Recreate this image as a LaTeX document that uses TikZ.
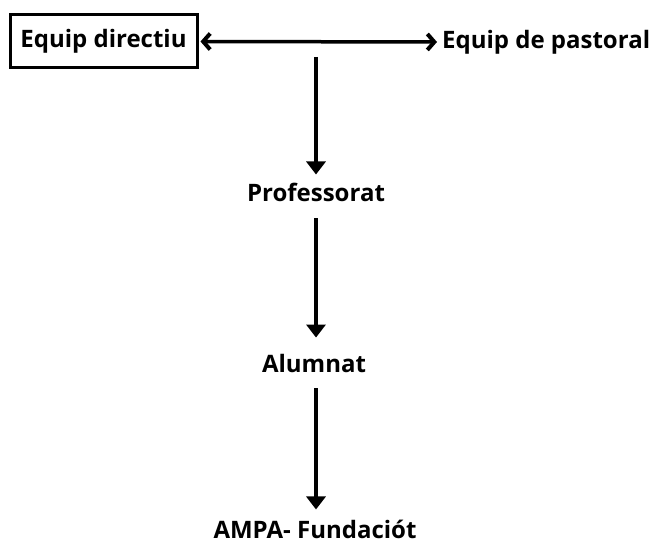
\documentclass[tikz,border=0pt]{standalone}
\usepackage{fontspec}
\setmainfont{Open Sans}
\usepackage{tikz}
\usetikzlibrary{arrows.meta}

\begin{document}
\begin{tikzpicture}[x=1pt, y=-1pt, font=\bfseries\fontsize{24}{27}\selectfont,
        level/.style={inner sep=2pt},
        flow/.style={line width=3.5pt, -{Triangle[length=13pt, width=19pt]}},
        both/.style={line width=3.5pt, {Straight Barb[length=7pt, width=16pt, line width=4pt]}-{Straight Barb[length=7pt, width=16pt, line width=4pt]}}]
        \useasboundingbox (0, 0) rectangle (657, 545);
        \node[draw, line width=3pt, minimum width=187pt, minimum height=53pt, inner xsep=3pt] (direccio) at (103.5, 41.5) {Equip directiu};
        \node[level, anchor=west] (pastoral) at (440, 42) {Equip de pastoral};
        \node[level] (professorat) at (316, 192) {Professorat};
        \node[level] (alumnat) at (314, 364) {Alumnat};
        \node[level] (ampa) at (315, 529) {AMPA- Fundaciót};
        \coordinate (sota) at (316, 57);
        \draw[both, shorten <=2pt, shorten >=3pt] (direccio.east) to (pastoral.west);
        \draw[flow] (sota) to ([yshift=6pt] professorat.north);
        \draw[flow] ([yshift=-15pt] professorat.south) to ([yshift=15pt] alumnat.north -| professorat.south);
        \draw[flow] ([yshift=-13pt] alumnat.south -| professorat.south) to ([yshift=8pt] ampa.north -| professorat.south);
\end{tikzpicture}
\end{document}
